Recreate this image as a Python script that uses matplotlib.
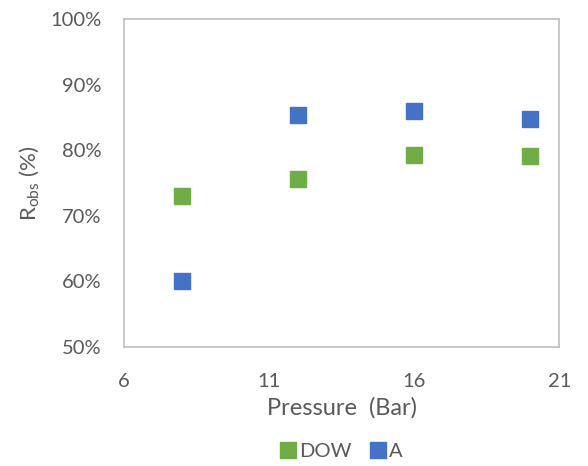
import matplotlib.pyplot as plt
from matplotlib.ticker import FuncFormatter

plt.rcParams['font.family'] = ['Lato', 'DejaVu Sans']

pressure = [8, 12, 16, 20]
dow = [73.1, 75.7, 79.3, 79.2]
a = [60.0, 85.4, 86.0, 84.8]

grey = '#595959'
fig = plt.figure(figsize=(5.88, 4.66), dpi=100)
ax = fig.add_axes([0.211, 0.2554, 0.740, 0.7028])

ax.plot(pressure, dow, 's', color='#70AD47', markersize=11, label='DOW', linestyle='none')
ax.plot(pressure, a, 's', color='#4472C4', markersize=11, label='A', linestyle='none')

ax.set_xlim(6, 21)
ax.set_ylim(50, 100)
ax.set_xticks([6, 11, 16, 21])
ax.set_yticks(range(50, 101, 10))
ax.yaxis.set_major_formatter(FuncFormatter(lambda v, p: f'{v:.0f}%'))
ax.tick_params(length=0, labelsize=14.5, colors=grey)
ax.tick_params(axis='x', pad=19)
ax.tick_params(axis='y', pad=16)
for s in ax.spines.values():
    s.set_color('#BFBFBF')
    s.set_linewidth(1.2)

ax.set_xlabel('Pressure  (Bar)', fontsize=17, color=grey, labelpad=5)
ax.set_ylabel(r'R$_{\mathregular{obs}}$ (%)', fontsize=16, color=grey, labelpad=6)

leg = ax.legend(loc='center', bbox_to_anchor=(0.5, -0.318), ncol=2, frameon=False,
                fontsize=14.5, handlelength=0.8, handletextpad=0.15, columnspacing=0.9,
                markerscale=1.0, borderpad=0)
for t in leg.get_texts():
    t.set_color(grey)

fig.savefig('out.png', dpi=100)
